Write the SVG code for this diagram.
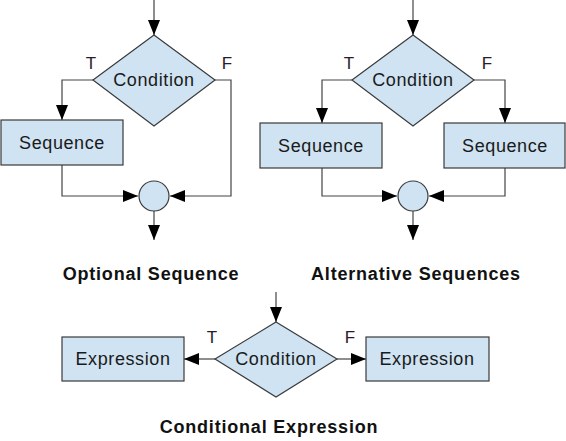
<svg xmlns="http://www.w3.org/2000/svg" width="566" height="441" viewBox="0 0 566 441">
<style>
.shape{fill:#cfe3f2;stroke:#3a3a3a;stroke-width:1.2}
.line{fill:none;stroke:#444;stroke-width:1.2}
.lbl{font-family:"Liberation Sans",Arial,sans-serif;font-size:18px;letter-spacing:0.6px;fill:#1a1a1a;text-anchor:middle;dominant-baseline:central}
.tf{font-family:"Liberation Sans",Arial,sans-serif;font-size:17px;fill:#2a1a2a;text-anchor:middle;dominant-baseline:central}
.title{font-family:"Liberation Sans",Arial,sans-serif;font-size:18px;letter-spacing:0.8px;font-weight:bold;fill:#111;text-anchor:middle;dominant-baseline:central}
</style>
<defs>
<marker id="arr" viewBox="0 0 15 12" refX="15" refY="6" markerWidth="15" markerHeight="12" markerUnits="userSpaceOnUse" orient="auto">
<path d="M0,0 L15,6 L0,12 Z" fill="#000"/>
</marker>
</defs>
<g id="connectors">
<path class="line" d="M154,0 V35" marker-end="url(#arr)"/>
<path class="line" d="M93,80 H62 V120" marker-end="url(#arr)"/>
<path class="line" d="M215,80 H231 V196 H170" marker-end="url(#arr)"/>
<path class="line" d="M62,165 V196 H138" marker-end="url(#arr)"/>
<path class="line" d="M154,211 V240" marker-end="url(#arr)"/>
<path class="line" d="M413,0 V35" marker-end="url(#arr)"/>
<path class="line" d="M352,80 H322 V123" marker-end="url(#arr)"/>
<path class="line" d="M474,80 H505 V123" marker-end="url(#arr)"/>
<path class="line" d="M322,168 V196 H397" marker-end="url(#arr)"/>
<path class="line" d="M505,168 V196 H429" marker-end="url(#arr)"/>
<path class="line" d="M413,211 V240" marker-end="url(#arr)"/>
<path class="line" d="M276,292 V322" marker-end="url(#arr)"/>
<path class="line" d="M215,359 H184" marker-end="url(#arr)"/>
<path class="line" d="M337,359 H366" marker-end="url(#arr)"/>
</g>
<g id="opt-condition">
<polygon class="shape" points="154,35 215,80 154,126 93,80"/>
<text class="lbl" x="154" y="80">Condition</text>
</g>
<g id="opt-sequence">
<rect class="shape" x="1" y="120" width="122" height="45"/>
<text class="lbl" x="62" y="143">Sequence</text>
</g>
<g id="opt-merge">
<circle class="shape" cx="154" cy="196" r="15"/>
</g>
<g id="opt-labels">
<text class="tf" x="91" y="63">T</text>
<text class="tf" x="227" y="63">F</text>
<text class="title" x="151" y="274">Optional Sequence</text>
</g>
<g id="alt-condition">
<polygon class="shape" points="413,35 474,80 413,126 352,80"/>
<text class="lbl" x="413" y="80">Condition</text>
</g>
<g id="alt-seq-t">
<rect class="shape" x="260" y="123" width="122" height="45"/>
<text class="lbl" x="321" y="146">Sequence</text>
</g>
<g id="alt-seq-f">
<rect class="shape" x="444" y="123" width="121" height="45"/>
<text class="lbl" x="505" y="146">Sequence</text>
</g>
<g id="alt-merge">
<circle class="shape" cx="413" cy="196" r="15"/>
</g>
<g id="alt-labels">
<text class="tf" x="349" y="63">T</text>
<text class="tf" x="487" y="63">F</text>
<text class="title" x="416" y="274">Alternative Sequences</text>
</g>
<g id="cond-condition">
<polygon class="shape" points="276,322 337,359 276,397 215,359"/>
<text class="lbl" x="276" y="359">Condition</text>
</g>
<g id="cond-expr-t">
<rect class="shape" x="62" y="337" width="122" height="44"/>
<text class="lbl" x="123" y="359">Expression</text>
</g>
<g id="cond-expr-f">
<rect class="shape" x="366" y="337" width="123" height="44"/>
<text class="lbl" x="427" y="359">Expression</text>
</g>
<g id="cond-labels">
<text class="tf" x="212" y="337">T</text>
<text class="tf" x="350" y="337">F</text>
<text class="title" x="269" y="427">Conditional Expression</text>
</g>
</svg>
